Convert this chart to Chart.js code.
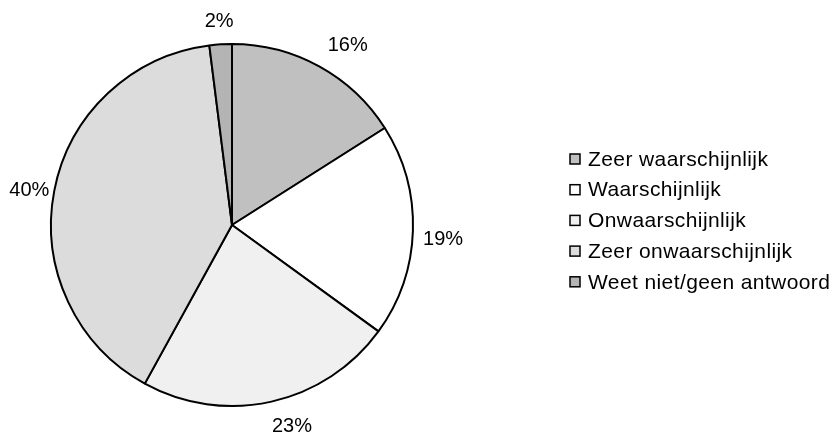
<!DOCTYPE html>
<html lang="nl">
<head>
<meta charset="UTF-8">
<title>Waarschijnlijkheid</title>
<script src="https://cdn.jsdelivr.net/npm/chart.js@4.4.1/dist/chart.umd.min.js"></script>
<style>
  html, body { margin: 0; padding: 0; background: #fff; }
</style>
</head>
<body>
<canvas id="chart" width="838" height="434"></canvas>
<script>
var categories = ['Zeer waarschijnlijk', 'Waarschijnlijk', 'Onwaarschijnlijk', 'Zeer onwaarschijnlijk', 'Weet niet/geen antwoord'];
var percentages = [16, 19, 23, 40, 2];
var sliceColors = ['#c0c0c0', '#ffffff', '#f0f0f0', '#dcdcdc', '#b4b4b4'];

// small hand tweaks to label placement: [degrees clockwise, extra px outward]
var labelNudge = [[4, 3], [2, 4], [-4, 3], [-1, -4], [0, 0]];

var LABEL_FONT = '20px "Liberation Sans", Arial, sans-serif';
var LEGEND_FONT = '21px "Liberation Sans", Arial, sans-serif';

// percentage labels just outside each slice
var pieLabels = {
    id: 'pieLabels',
    afterDatasetsDraw: function (chart) {
        var ctx = chart.ctx;
        var meta = chart.getDatasetMeta(0);
        ctx.save();
        ctx.font = LABEL_FONT;
        ctx.fillStyle = '#000';
        ctx.textAlign = 'center';
        ctx.textBaseline = 'middle';
        meta.data.forEach(function (arc, i) {
            var p = arc.getProps(['x', 'y', 'startAngle', 'endAngle', 'outerRadius'], true);
            var mid = (p.startAngle + p.endAngle) / 2;
            var txt = percentages[i] + '%';
            var hw = ctx.measureText(txt).width / 2;
            var dx = Math.cos(mid), dy = Math.sin(mid);
            var d = p.outerRadius + 6 + Math.abs(dx) * hw + Math.abs(dy) * 16 + labelNudge[i][1];
            var a = mid + labelNudge[i][0] * Math.PI / 180;
            ctx.fillText(txt, p.x + Math.cos(a) * d, p.y + Math.sin(a) * d);
        });
        ctx.restore();
    }
};

// legend on the right, drawn from the chart's own labels and colours
var sideLegend = {
    id: 'sideLegend',
    afterDraw: function (chart) {
        var ctx = chart.ctx;
        var ds = chart.data.datasets[0];
        ctx.save();
        ctx.font = LEGEND_FONT;
        ctx.letterSpacing = '0.4px';
        ctx.textBaseline = 'middle';
        chart.data.labels.forEach(function (label, i) {
            var y = 159 + i * 30.7;
            ctx.fillStyle = ds.backgroundColor[i];
            ctx.fillRect(570, y - 5, 10, 10);
            ctx.lineWidth = 1.5;
            ctx.strokeStyle = '#000';
            ctx.strokeRect(570, y - 5, 10, 10);
            ctx.fillStyle = '#000';
            ctx.fillText(label, 588, y + 1);
        });
        ctx.restore();
    }
};

var ctx = document.getElementById('chart').getContext('2d');
var chart = new Chart(ctx, {
    type: 'pie',
    data: {
        labels: categories,
        datasets: [{
            data: percentages,
            backgroundColor: sliceColors,
            borderColor: '#000',
            borderWidth: 2,
            radius: 181
        }]
    },
    options: {
        responsive: false,
        animation: false,
        events: [],
        layout: { padding: { left: 0, right: 374, top: 16, bottom: 0 } },
        plugins: {
            legend: { display: false },
            tooltip: { enabled: false }
        }
    },
    plugins: [pieLabels, sideLegend]
});
</script>
</body>
</html>
